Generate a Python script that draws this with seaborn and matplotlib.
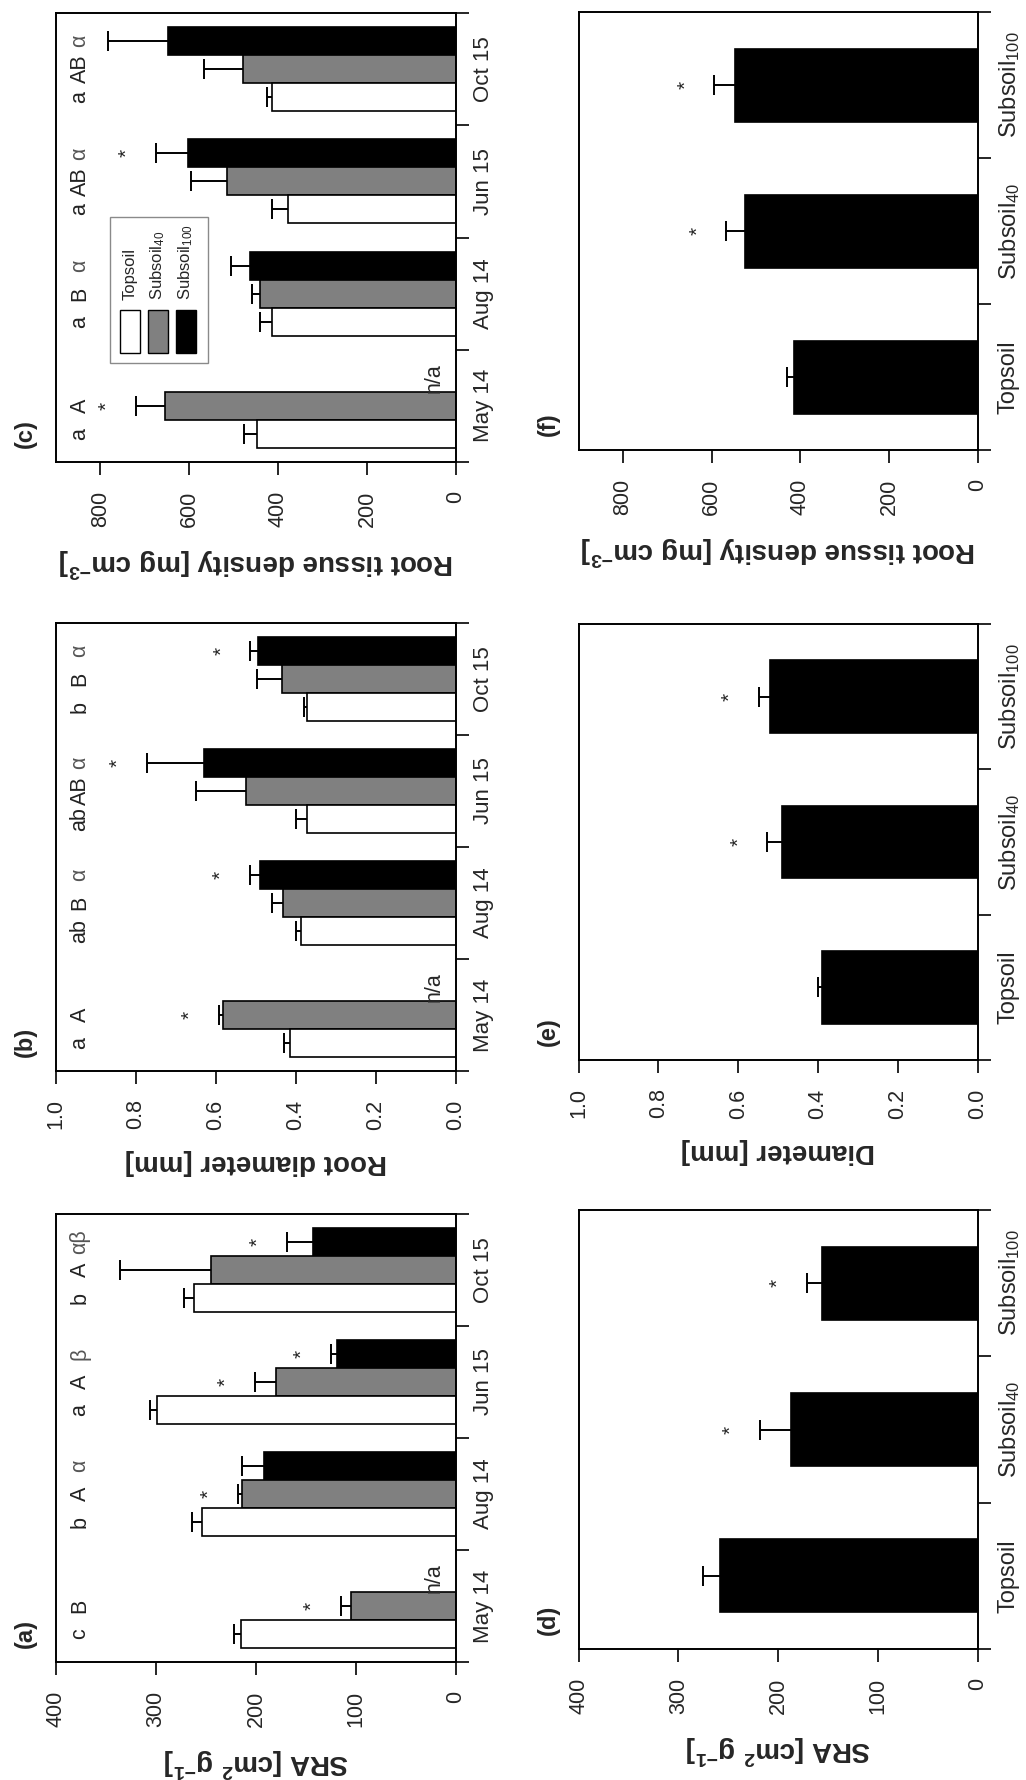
import numpy as np
import pandas as pd
import matplotlib
matplotlib.use("Agg")
import matplotlib.pyplot as plt
import seaborn as sns
from matplotlib.patches import Rectangle

# ---------------- data ----------------
dates = ["May 14", "Aug 14", "Jun 15", "Oct 15"]
soils = ["Topsoil", "Subsoil40", "Subsoil100"]
soil_ticklabels = {"Topsoil": "Topsoil", "Subsoil40": "Subsoil$_{40}$",
                   "Subsoil100": "Subsoil$_{100}$"}

# (a) specific root area [cm2 g-1]
sra_top = [215, 254, 299, 262]
sra_top_se = [7, 10, 7, 10]
sra_s40 = [105, 214, 180, 245]
sra_s40_se = [10, 4, 21, 91]
sra_s100 = [np.nan, 192, 119, 143]
sra_s100_se = [np.nan, 22, 6, 26]
sra_letters = [["c", "B", ""], ["b", "A", "α"], ["a", "A", "β"], ["b", "A", "αβ"]]
sra_star_s40 = [True, True, True, False]
sra_star_s100 = [False, False, True, True]

# (b) root diameter [mm]
dia_top = [0.415, 0.388, 0.373, 0.373]
dia_top_se = [0.014, 0.011, 0.028, 0.007]
dia_s40 = [0.582, 0.432, 0.524, 0.434]
dia_s40_se = [0.011, 0.027, 0.125, 0.063]
dia_s100 = [np.nan, 0.490, 0.629, 0.495]
dia_s100_se = [np.nan, 0.025, 0.144, 0.019]
dia_letters = [["a", "A", ""], ["ab", "B", "α"], ["ab", "AB", "α"], ["b", "B", "α"]]
dia_star_s40 = [True, False, False, False]
dia_star_s100 = [False, True, True, True]

# (c) root tissue density [mg cm-3]
rtd_top = [447, 414, 379, 414]
rtd_top_se = [29, 26, 35, 11]
rtd_s40 = [654, 440, 515, 479]
rtd_s40_se = [67, 19, 81, 89]
rtd_s100 = [np.nan, 463, 602, 649]
rtd_s100_se = [np.nan, 43, 74, 135]
rtd_letters = [["a", "A", ""], ["a", "B", "α"], ["a", "AB", "α"], ["a", "AB", "α"]]
rtd_star_s40 = [True, False, False, False]
rtd_star_s100 = [False, False, True, False]

# (d)-(f) pooled over dates
sra_pool = [258, 187, 156]
sra_pool_se = [17, 31, 15]
dia_pool = [0.391, 0.489, 0.521]
dia_pool_se = [0.009, 0.038, 0.027]
rtd_pool = [414, 524, 547]
rtd_pool_se = [16, 43, 47]
pool_stars = [False, True, True]

colors = {"Topsoil": "white", "Subsoil40": "#808080", "Subsoil100": "black"}

# ---------------- style ----------------
sns.set_theme(style="ticks")
plt.rcParams["font.family"] = ["Liberation Sans", "DejaVu Sans"]
plt.rcParams["mathtext.default"] = "regular"
plt.rcParams["axes.linewidth"] = 1.4

W, H = 1026, 1780
fig = plt.figure(figsize=(W / 100, H / 100), dpi=100)


def add_axes(left, top, right, bottom):
    return fig.add_axes([left / W, 1 - bottom / H, (right - left) / W, (bottom - top) / H])


LINE = 1.4
TICK_FS = 15.5


def one_sided_error(ax, value, y, se):
    # whisker only outward from the bar end, with a single cap
    ax.errorbar(value, y, xerr=[[0], [se]], fmt="none", ecolor="black",
                elinewidth=1.4, capsize=0)
    ax.plot([value + se], [y], marker="|", markersize=15, markeredgewidth=1.4,
            color="black", linestyle="none")


def style_value_axis(ax, vmax, ticks, ticklabels, xlabel):
    ax.set_xlim(vmax, 0)
    ax.set_xticks(ticks)
    ax.set_xticklabels(ticklabels, rotation=90)
    ax.tick_params(axis="x", length=9.5, width=LINE, pad=11, labelsize=TICK_FS,
                   bottom=True, top=False)
    ax.set_xlabel(xlabel, rotation=180, fontsize=20, fontweight="bold", labelpad=14)
    ax.set_ylabel("")
    for s in ax.spines.values():
        s.set_visible(True)
        s.set_linewidth(LINE)
        s.set_color("black")


def style_cat_axis(ax, n, labels, fs, pad):
    ax.yaxis.tick_right()
    ax.set_yticks(range(n))
    ax.set_yticklabels(labels, rotation=90, va="center", fontsize=fs)
    ax.set_yticks(np.arange(-0.5, n, 1), minor=True)
    ax.tick_params(axis="y", which="major", length=0, pad=pad, right=True, left=False)
    ax.tick_params(axis="y", which="minor", length=9.5, width=LINE, right=True, left=False)
    ax.set_ylim(n - 0.5, -0.5)


def panel_label(ax, txt):
    ax.annotate(txt, xy=(0, 0), xycoords="axes fraction", xytext=(-22, 10),
                textcoords="offset points", rotation=90, ha="center", va="bottom",
                fontsize=17, fontweight="bold")


def draw_season(ax, top, top_se, s40, s40_se, s100, s100_se, letters, st40, st100,
                vmax, ticks, ticklabels, xlabel, panel):
    order = dates[::-1]
    hue_order = soils[::-1]
    df = pd.DataFrame({
        "date": dates * 3,
        "soil": [s for s in soils for _ in dates],
        "value": list(top) + list(s40) + list(s100),
        "se": list(top_se) + list(s40_se) + list(s100_se),
    })
    star_map = {("Subsoil40", d): f for d, f in zip(dates, st40)}
    star_map.update({("Subsoil100", d): f for d, f in zip(dates, st100)})
    sns.barplot(data=df.dropna(), x="value", y="date", hue="soil", order=order,
                hue_order=hue_order, palette=colors, orient="h", width=0.75,
                edgecolor="black", linewidth=1.2, errorbar=None, saturation=1,
                legend=False, ax=ax)
    offsets = {s: -0.375 + 0.25 * (k + 0.5) for k, s in enumerate(hue_order)}
    for _, r in df.iterrows():
        y = order.index(r["date"]) + offsets[r["soil"]]
        if np.isnan(r["value"]):
            ax.annotate("n/a", xy=(0, y), xycoords="data", xytext=(-8, 0),
                        textcoords="offset points", rotation=90, ha="right",
                        va="center", fontsize=TICK_FS)
            continue
        one_sided_error(ax, r["value"], y, r["se"])
        if star_map.get((r["soil"], r["date"]), False):
            ax.text(r["value"] + r["se"] + 0.072 * vmax, y, "*", rotation=90,
                    ha="center", va="center", fontsize=15)
    for d, labs in zip(dates, letters):
        for s, lab in zip(soils, labs):
            if lab:
                greek = lab[0] in "αβ"
                ax.text(0.94 * vmax, order.index(d) + offsets[s], lab, rotation=90,
                        ha="center", va="center", fontsize=TICK_FS,
                        color="#555555" if greek else "#222222")
    style_value_axis(ax, vmax, ticks, ticklabels, xlabel)
    style_cat_axis(ax, len(order), order, 16, 12)
    panel_label(ax, panel)


def draw_pool(ax, vals, se, stars, vmax, ticks, ticklabels, xlabel, panel):
    order = soils[::-1]
    df = pd.DataFrame({"soil": soils, "value": vals, "se": se, "star": stars})
    sns.barplot(data=df, x="value", y="soil", order=order, color="black", orient="h",
                width=0.5, edgecolor="black", linewidth=1.2, errorbar=None,
                saturation=1, ax=ax)
    for _, r in df.iterrows():
        y = order.index(r["soil"])
        one_sided_error(ax, r["value"], y, r["se"])
        if r["star"]:
            ax.text(r["value"] + r["se"] + 0.072 * vmax, y, "*", rotation=90,
                    ha="center", va="center", fontsize=15)
    style_value_axis(ax, vmax, ticks, ticklabels, xlabel)
    style_cat_axis(ax, len(order), [soil_ticklabels[s] for s in order], 17, 14)
    panel_label(ax, panel)


# left column: seasonal panels
ax_c = add_axes(56, 13, 456, 462)
ax_b = add_axes(56, 623, 456, 1071)
ax_a = add_axes(56, 1214, 456, 1662)
# right column: pooled panels
ax_f = add_axes(578.6, 12, 977.6, 450)
ax_e = add_axes(578.6, 624, 977.6, 1060)
ax_d = add_axes(578.6, 1210, 977.6, 1649)

sra_ticks = [0, 100, 200, 300, 400]
dia_ticks = [0.0, 0.2, 0.4, 0.6, 0.8, 1.0]
rtd_ticks = [0, 200, 400, 600, 800]
sra_lab = "SRA [cm$^2$ g$^{-1}$]"
dia_lab_b = "Root diameter [mm]"
dia_lab_e = "Diameter [mm]"
rtd_lab = "Root tissue density [mg cm$^{-3}$]"

draw_season(ax_a, sra_top, sra_top_se, sra_s40, sra_s40_se, sra_s100, sra_s100_se,
            sra_letters, sra_star_s40, sra_star_s100, 400, sra_ticks,
            [str(t) for t in sra_ticks], sra_lab, "(a)")
draw_season(ax_b, dia_top, dia_top_se, dia_s40, dia_s40_se, dia_s100, dia_s100_se,
            dia_letters, dia_star_s40, dia_star_s100, 1.0, dia_ticks,
            [f"{t:.1f}" for t in dia_ticks], dia_lab_b, "(b)")
draw_season(ax_c, rtd_top, rtd_top_se, rtd_s40, rtd_s40_se, rtd_s100, rtd_s100_se,
            rtd_letters, rtd_star_s40, rtd_star_s100, 900, rtd_ticks,
            [str(t) for t in rtd_ticks], rtd_lab, "(c)")

draw_pool(ax_d, sra_pool, sra_pool_se, pool_stars, 400, sra_ticks,
          [str(t) for t in sra_ticks], sra_lab, "(d)")
draw_pool(ax_e, dia_pool, dia_pool_se, pool_stars, 1.0, dia_ticks,
          [f"{t:.1f}" for t in dia_ticks], dia_lab_e, "(e)")
draw_pool(ax_f, rtd_pool, rtd_pool_se, pool_stars, 900, rtd_ticks,
          [str(t) for t in rtd_ticks], rtd_lab, "(f)")

# rotated legend inside panel (c)
tr = ax_c.transAxes
ax_c.add_patch(Rectangle((0.135, 0.22), 0.245, 0.326, transform=tr, fill=False,
                         edgecolor="#8a8a8a", linewidth=1.0, zorder=5))
for k, s in enumerate(soils):
    x0 = 0.16 + k * 0.07
    ax_c.add_patch(Rectangle((x0, 0.243), 0.05, 0.096, transform=tr,
                             facecolor=colors[s], edgecolor="black", linewidth=1.0,
                             zorder=6))
    ax_c.text(x0 + 0.025, 0.36, soil_ticklabels[s], transform=tr, rotation=90,
              ha="center", va="bottom", fontsize=12, zorder=6)

fig.savefig("out.png", dpi=100)
